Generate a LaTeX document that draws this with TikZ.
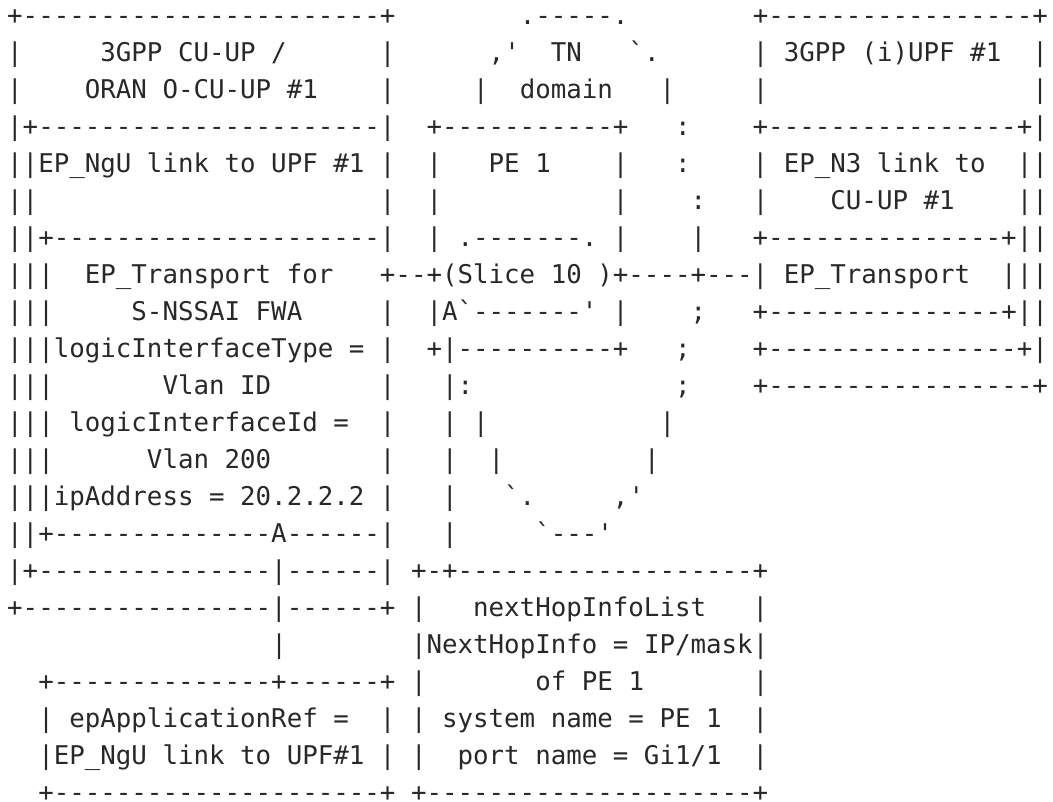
\documentclass[tikz,border=0pt]{standalone}
\usepackage{fontspec}
\setmonofont{DejaVu Sans Mono}
\definecolor{ink}{RGB}{40,40,40}
\ExplSyntaxOn
\NewDocumentCommand\Dx{m}{\prg_replicate:nn{#1}{-}}
\ExplSyntaxOff
\newcommand\Sx[1]{\kern#1\fontcharwd\font`\-\relax}
\tikzset{ascii/.style={anchor=base west, inner sep=0pt, outer sep=0pt,
  font=\ttfamily\fontsize{19.35pt}{19.35pt}\selectfont\frenchspacing, text=ink}}
\begin{document}
\begin{tikzpicture}[x=0.75pt,y=0.75pt]
\useasboundingbox (0,0) rectangle (1053,801);
\node[ascii] (l1)  at (7.2,776.3) {+\Dx{23}+\Sx{8}.\Dx{5}.\Sx{8}+\Dx{17}+};
\node[ascii] (l2)  at (7.2,739.3) {|\Sx{5}3GPP CU-UP /\Sx{6}|\Sx{6},'\Sx{2}TN\Sx{3}`.\Sx{6}| 3GPP (i)UPF \#1\Sx{2}|};
\node[ascii] (l3)  at (7.2,702.3) {|\Sx{4}ORAN O-CU-UP \#1\Sx{4}|\Sx{5}|\Sx{2}domain\Sx{3}|\Sx{5}|\Sx{17}|};
\node[ascii] (l4)  at (7.2,665.3) {|+\Dx{22}|\Sx{2}+\Dx{11}+\Sx{3}:\Sx{4}+\Dx{16}+|};
\node[ascii] (l5)  at (7.2,628.3) {||EP\_NgU link to UPF \#1 |\Sx{2}|\Sx{3}PE 1\Sx{4}|\Sx{3}:\Sx{4}| EP\_N3 link to\Sx{2}||};
\node[ascii] (l6)  at (7.2,591.3) {||\Sx{22}|\Sx{2}|\Sx{11}|\Sx{4}:\Sx{3}|\Sx{4}CU-UP \#1\Sx{4}||};
\node[ascii] (l7)  at (7.2,554.3) {||+\Dx{21}|\Sx{2}| .\Dx{7}. |\Sx{4}|\Sx{3}+\Dx{15}+||};
\node[ascii] (l8)  at (7.2,517.3) {|||\Sx{2}EP\_Transport for\Sx{3}+\Dx{2}+(Slice 10 )+\Dx{4}+\Dx{3}| EP\_Transport\Sx{2}|||};
\node[ascii] (l9)  at (7.2,480.3) {|||\Sx{5}S-NSSAI FWA\Sx{5}|\Sx{2}|A`\Dx{7}' |\Sx{4};\Sx{3}+\Dx{15}+||};
\node[ascii] (l10) at (7.2,443.3) {|||logicInterfaceType = |\Sx{2}+|\Dx{10}+\Sx{3};\Sx{4}+\Dx{16}+|};
\node[ascii] (l11) at (7.2,406.3) {|||\Sx{7}Vlan ID\Sx{7}|\Sx{3}|:\Sx{13};\Sx{4}+\Dx{17}+};
\node[ascii] (l12) at (7.2,369.3) {||| logicInterfaceId =\Sx{2}|\Sx{3}| |\Sx{11}|};
\node[ascii] (l13) at (7.2,332.3) {|||\Sx{6}Vlan 200\Sx{7}|\Sx{3}|\Sx{2}|\Sx{9}|};
\node[ascii] (l14) at (7.2,295.3) {|||ipAddress = 20.2.2.2 |\Sx{3}|\Sx{3}`.\Sx{5},'};
\node[ascii] (l15) at (7.2,258.3) {||+\Dx{14}A\Dx{6}|\Sx{3}|\Sx{5}`\Dx{3}'};
\node[ascii] (l16) at (7.2,221.3) {|+\Dx{15}|\Dx{6}| +-+\Dx{19}+};
\node[ascii] (l17) at (7.2,184.3) {+\Dx{16}|\Dx{6}+ |\Sx{3}nextHopInfoList\Sx{3}|};
\node[ascii] (l18) at (7.2,147.3) {\Sx{17}|\Sx{8}|NextHopInfo = IP/mask|};
\node[ascii] (l19) at (7.2,110.3) {\Sx{2}+\Dx{14}+\Dx{6}+ |\Sx{7}of PE 1\Sx{7}|};
\node[ascii] (l20) at (7.2,73.3)  {\Sx{2}| epApplicationRef =\Sx{2}| | system name = PE 1\Sx{2}|};
\node[ascii] (l21) at (7.2,36.3)  {\Sx{2}|EP\_NgU link to UPF\#1 | |\Sx{2}port name = Gi1/1\Sx{2}|};
\node[ascii] (l22) at (7.2,-0.7)  {\Sx{2}+\Dx{21}+ +\Dx{21}+};
\end{tikzpicture}
\end{document}
